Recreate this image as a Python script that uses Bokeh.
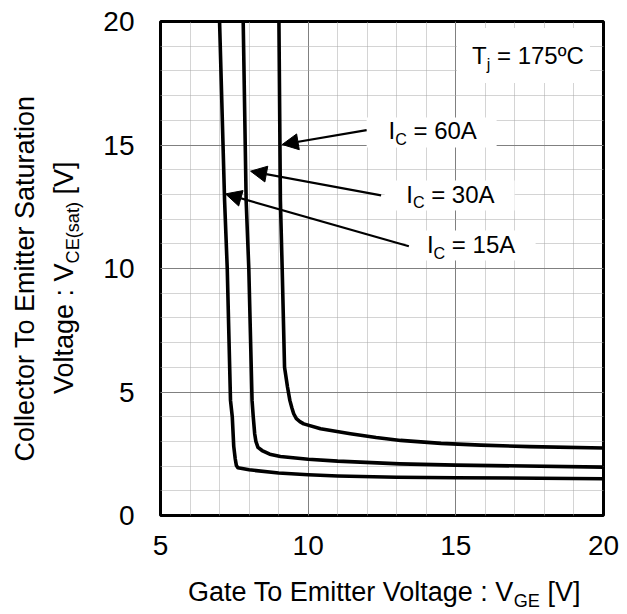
import numpy as np
from bokeh.plotting import figure
from bokeh.layouts import row, column
from bokeh.models import Range1d, FixedTicker, Label, Arrow, NormalHead, ColumnDataSource
from bokeh.embed import file_html
from bokeh.resources import INLINE

# ---------------- data ----------------
vge_15a = [7.00, 7.17, 7.26, 7.37, 7.43, 7.48, 7.53, 7.57, 7.62, 8.00, 9.00, 10.0, 11.0, 13.0, 15.0, 20.0]
vce_15a = [20.0, 12.75, 10.0, 4.66, 4.00, 2.80, 2.30, 2.02, 1.93, 1.85, 1.72, 1.65, 1.60, 1.55, 1.53, 1.49]

vge_30a = [7.80, 7.90, 7.99, 8.10, 8.14, 8.19, 8.23, 8.30, 8.44, 8.70, 9.06, 10.0, 11.0, 13.1, 15.0, 20.0]
vce_30a = [20.0, 12.75, 10.0, 4.66, 4.00, 3.30, 3.00, 2.76, 2.63, 2.48, 2.39, 2.28, 2.20, 2.09, 2.04, 1.96]

vge_60a = [9.01, 9.06, 9.12, 9.20, 9.30, 9.38, 9.45, 9.51, 9.60, 9.72, 9.85, 10.42, 11.43, 12.3, 13.13,
           14.5, 15.84, 17.5, 20.0]
vce_60a = [20.0, 12.75, 10.0, 6.00, 5.20, 4.66, 4.35, 4.12, 3.92, 3.80, 3.71, 3.51, 3.31, 3.16, 3.04,
           2.92, 2.85, 2.79, 2.73]

x_ticks = [5, 10, 15, 20]
x_minor = list(range(5, 21))
y_ticks = [0, 5, 10, 15, 20]
y_minor = list(range(0, 21))

curve_labels = ["= 60A", "= 30A", "= 15A"]
temp_label = "= 175ºC"
x_title = ["Gate To Emitter Voltage : V", "GE", "[V]"]
y_title_1 = "Collector To Emitter Saturation"
y_title_2 = ["Voltage : V", "CE(sat)", "[V]"]

# annotation placement (data coordinates)
ann_x = [12.72, 13.32, 14.02]
ann_y = [15.18, 12.62, 10.57]
box_x = [14.18, 14.79, 15.50]
box_y = [15.51, 12.96, 10.93]
arr_x0 = [11.98, 12.47, 13.41]
arr_y0 = [15.60, 12.96, 10.90]
arr_x1 = [9.12, 8.05, 7.20]
arr_y1 = [15.02, 13.94, 13.02]
tj_x, tj_y = 15.55, 18.22
tj_box_x, tj_box_y = 17.29, 18.62

# ---------------- styling helpers ----------------
FONT = "Liberation Sans"
AW = {'G': .778, 'a': .556, 't': .278, 'e': .556, ' ': .278, 'T': .611, 'o': .556,
      'E': .667, 'm': .833, 'i': .222, 'r': .333, 'V': .667, 'l': .222, 'g': .556,
      ':': .278, 'C': .722, 'c': .5, 'S': .667, 'u': .556, 'n': .556, 's': .5,
      '(': .333, ')': .333, 'I': .278, 'j': .222, '[': .278, ']': .278}


def tw(s, size):
    return sum(AW[c] for c in s) * size


SUB = 0.67
TITLE_F = 27.0
ANN_F = 24.0
TICK_F = 28
KB = 0.40   # empirical correction of the alphabetic baseline placement (in em)

W, H = 627, 614
LEFT_W = 100          # width of the y-title strip
XT_H = 40             # height of the x-title strip
MW, MH = W - LEFT_W, H - XT_H
BL, BR, BT, BB = 60, 24, 21, 59
FW = MW - BL - BR
FH = MH - BT - BB
FRAME_LEFT = LEFT_W + BL   # canvas x of the plot frame's left edge


def lab(fig, size, rotated=False, x_offset=0.0, y_offset=0.0, **kw):
    base = dict(text_font=FONT, text_color="black", text_baseline="alphabetic", text_align="left",
                text_font_size=f"{size:.1f}px")
    if rotated:
        base["angle"] = np.pi / 2
        x_offset -= KB * size
    else:
        y_offset += KB * size
    base.update(kw)
    fig.add_layout(Label(x_offset=x_offset, y_offset=y_offset, **base))


def blank(width, height):
    f = figure(width=width, height=height, x_range=Range1d(0, width), y_range=Range1d(0, height),
               output_backend="svg", toolbar_location=None, title=None,
               x_axis_type=None, y_axis_type=None,
               min_border_left=0, min_border_right=0, min_border_top=0, min_border_bottom=0)
    f.outline_line_color = None
    f.background_fill_color = "white"
    f.border_fill_color = "white"
    return f


# ---------------- main chart ----------------
p = figure(width=MW, height=MH, x_range=Range1d(5, 20), y_range=Range1d(0, 20),
           output_backend="svg", toolbar_location=None, title=None,
           min_border_left=BL, min_border_right=BR, min_border_top=BT, min_border_bottom=BB)
p.background_fill_color = "white"
p.border_fill_color = "white"
p.outline_line_color = "black"
p.outline_line_width = 3

xt = FixedTicker(ticks=x_ticks, minor_ticks=x_minor)
yt = FixedTicker(ticks=y_ticks, minor_ticks=y_minor)
p.xaxis.ticker = xt
p.yaxis.ticker = yt
p.xgrid.ticker = xt
p.ygrid.ticker = yt

for ax in (p.xaxis, p.yaxis):
    ax.axis_line_color = None
    ax.major_tick_line_color = None
    ax.minor_tick_line_color = None
    ax.major_tick_out = 0
    ax.major_tick_in = 0
    ax.minor_tick_out = 0
    ax.minor_tick_in = 0
    ax.major_label_text_font = FONT
    ax.major_label_text_font_size = f"{TICK_F}px"
    ax.major_label_text_color = "black"
p.xaxis.major_label_standoff = 20
p.yaxis.major_label_standoff = 26

for g in (p.xgrid, p.ygrid):
    g.grid_line_color = "#808080"
    g.grid_line_width = 1
    g.minor_grid_line_color = "#a8a8a8"
    g.minor_grid_line_width = 1
    g.minor_grid_line_dash = "1 1"

# white label boxes
p.rect(x=box_x, y=box_y, width=130, height=30, width_units="screen", height_units="screen",
       fill_color="white", line_color=None)
p.rect(x=[tj_box_x], y=[tj_box_y], width=133, height=55, width_units="screen", height_units="screen",
       fill_color="white", line_color=None)

# curves
for xs, ys in ((vge_15a, vce_15a), (vge_30a, vce_30a), (vge_60a, vce_60a)):
    p.line(xs, ys, line_color="black", line_width=3.6, line_join="round")

# arrows
asrc = ColumnDataSource(dict(x0=arr_x0, y0=arr_y0, x1=arr_x1, y1=arr_y1))
p.add_layout(Arrow(x_start="x0", y_start="y0", x_end="x1", y_end="y1", source=asrc,
                   line_width=2.2, line_color="black",
                   end=NormalHead(size=16, fill_color="black", line_color="black", line_width=1)))

# curve labels: I_C = ..A   (main piece right-aligned at the subscript's start)
ann_sub = ANN_F * SUB
sub_drop = 0.21 * ANN_F
for x, y, t in zip(ann_x, ann_y, curve_labels):
    s0 = tw("I", ANN_F)
    lab(p, ANN_F, x=x, y=y, text="I", x_offset=s0, text_align="right")
    lab(p, ann_sub, x=x, y=y, text="C", x_offset=s0, y_offset=-sub_drop)
    lab(p, ANN_F, x=x, y=y, text=t, x_offset=s0 + tw("C", ann_sub) + tw(" ", ANN_F))

# Tj label
s0 = tw("T", ANN_F)
lab(p, ANN_F, x=tj_x, y=tj_y, text="T", x_offset=s0, text_align="right")
lab(p, ann_sub, x=tj_x, y=tj_y, text="j", x_offset=s0, y_offset=-sub_drop)
lab(p, ANN_F, x=tj_x, y=tj_y, text=temp_label, x_offset=s0 + tw("j", ann_sub) + tw(" ", ANN_F))

tdrop = 0.21 * TITLE_F
sub_f = TITLE_F * SUB

# ---------------- x-axis title strip (its frame is aligned with the chart frame) ----------------
xf = blank(MW, XT_H)
xa, xb, xc = x_title
total = tw(xa, TITLE_F) + tw(xb, sub_f) + tw(" " + xc, TITLE_F)
x0 = (FRAME_LEFT + FW / 2) - total / 2 - FRAME_LEFT
xs_sub = x0 + tw(xa, TITLE_F)
ybase = 12
lab(xf, TITLE_F, x=xs_sub, y=ybase, x_units="screen", y_units="screen", text=xa, text_align="right")
lab(xf, sub_f, x=xs_sub, y=ybase - tdrop, x_units="screen", y_units="screen", text=xb)
lab(xf, TITLE_F, x=xs_sub + tw(xb, sub_f) + tw(" ", TITLE_F), y=ybase,
    x_units="screen", y_units="screen", text=xc)

# ---------------- y-axis title strip ----------------
yf = blank(LEFT_W, H)
ycen = H - 278
lab(yf, TITLE_F, rotated=True, x=35, y=ycen, x_units="screen", y_units="screen", text=y_title_1,
    text_align="center")
ya, yb, yc = y_title_2
tot2 = tw(ya, TITLE_F) + tw(yb, sub_f) + tw(" " + yc, TITLE_F)
y0 = ycen - tot2 / 2
ys_sub = y0 + tw(ya, TITLE_F)
xl2 = 74
lab(yf, TITLE_F, rotated=True, x=xl2, y=ys_sub, x_units="screen", y_units="screen", text=ya,
    text_align="right")
lab(yf, sub_f, rotated=True, x=xl2 + tdrop, y=ys_sub, x_units="screen", y_units="screen", text=yb)
lab(yf, TITLE_F, rotated=True, x=xl2, y=ys_sub + tw(yb, sub_f) + tw(" ", TITLE_F),
    x_units="screen", y_units="screen", text=yc)

layout = row(yf, column(p, xf, spacing=0), spacing=0)
open("out.html", "w").write(file_html(layout, INLINE))
